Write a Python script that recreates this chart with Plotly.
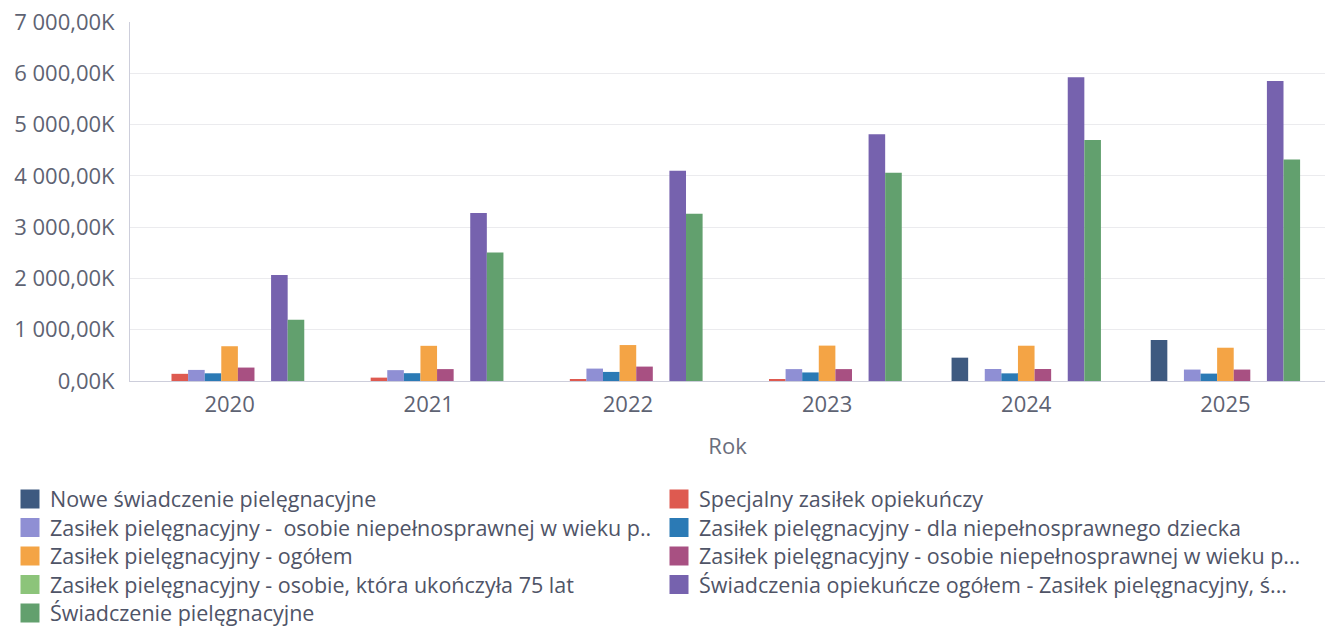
import plotly.graph_objects as go

# Years on the category axis
years = ["2020", "2021", "2022", "2023", "2024", "2025"]

# Series values, in thousands
nowe_swiadczenie = [0, 0, 0, 0, 455, 800]
specjalny_zasilek = [140, 66, 31, 25, 0, 0]
zasilek_wiek_p_a = [216, 212, 242, 232, 234, 223]
zasilek_dziecko = [150, 152, 177, 167, 149, 144]
zasilek_ogolem = [678, 686, 701, 690, 688, 649]
zasilek_wiek_p_b = [262, 232, 281, 232, 234, 223]
zasilek_75_lat = [0, 0, 0, 0, 0, 0]
swiadczenia_ogolem = [2065, 3275, 4100, 4810, 5925, 5850]
swiadczenie_piel = [1196, 2506, 3262, 4060, 4700, 4320]

series_names = [
    "Nowe świadczenie pielęgnacyjne",
    "Specjalny zasiłek opiekuńczy",
    "Zasiłek pielęgnacyjny -  osobie niepełnosprawnej w wieku p..",
    "Zasiłek pielęgnacyjny - dla niepełnosprawnego dziecka",
    "Zasiłek pielęgnacyjny - ogółem",
    "Zasiłek pielęgnacyjny - osobie niepełnosprawnej w wieku p...",
    "Zasiłek pielęgnacyjny - osobie, która ukończyła 75 lat",
    "Świadczenia opiekuńcze ogółem - Zasiłek pielęgnacyjny, ś...",
    "Świadczenie pielęgnacyjne",
]
series_values = [
    nowe_swiadczenie, specjalny_zasilek, zasilek_wiek_p_a, zasilek_dziecko,
    zasilek_ogolem, zasilek_wiek_p_b, zasilek_75_lat, swiadczenia_ogolem,
    swiadczenie_piel,
]
series_colors = [
    "#3e5a80", "#de5a50", "#8f8fd4", "#2b7ab5", "#f4a445",
    "#a85082", "#8cc47a", "#7662ae", "#62a06e",
]

FONT = "Open Sans"
TICK_COLOR = "#5e6373"
LEGEND_FONT = dict(family=FONT, size=21.5, color="#4f5467")

# Figure geometry (px)
W, H = 1330, 644
M_L, M_R, M_T, M_B = 130, 5, 22, 263
PLOT_BOTTOM = H - M_B
PLOT_H = H - M_T - M_B
PLOT_W = W - M_L - M_R

# Two-column legend, one legend object per row
N_COLS = 2
ROW_PITCH = 28.5
FIRST_ROW_TOP = 478.5
LEGEND_LEFT = 10
ENTRY_WIDTH = 604


def legend_id(row):
    return "legend" if row == 0 else f"legend{row + 1}"


fig = go.Figure()
for i, (name, vals, col) in enumerate(zip(series_names, series_values, series_colors)):
    row = i // N_COLS
    fig.add_trace(go.Bar(x=years, y=vals, name=name, marker_color=col,
                         marker_line_width=0, legendgroup=name,
                         showlegend=False))
    # Legend swatch for the series (larger square than the bar default)
    fig.add_trace(go.Scatter(x=[None], y=[None], mode="markers", name=name,
                             legendgroup=name, legend=legend_id(row),
                             marker=dict(symbol="square", size=16, color=col,
                                         line=dict(color=col, width=3)),
                             hoverinfo="skip"))

layout_legends = {}
n_rows = (len(series_names) + N_COLS - 1) // N_COLS
for r in range(n_rows):
    top = FIRST_ROW_TOP + r * ROW_PITCH
    layout_legends[legend_id(r)] = dict(
        orientation="h", xref="paper", yref="paper",
        x=(LEGEND_LEFT - M_L) / PLOT_W, y=(PLOT_BOTTOM - top) / PLOT_H,
        xanchor="left", yanchor="top",
        entrywidth=ENTRY_WIDTH, traceorder="normal",
        itemsizing="trace",
        font=LEGEND_FONT, bgcolor="rgba(0,0,0,0)",
    )

fig.update_layout(
    width=W, height=H,
    margin=dict(l=M_L, r=M_R, t=M_T, b=M_B, autoexpand=False),
    paper_bgcolor="white", plot_bgcolor="white",
    barmode="group", bargap=0.25, bargroupgap=0,
    separators=", ",
    font=dict(family=FONT, size=22, color=TICK_COLOR),
    showlegend=True,
    **layout_legends,
)

fig.update_xaxes(
    type="category", showgrid=False, showline=True, linecolor="#cdcedb",
    linewidth=1, ticks="", ticklabelstandoff=4,
    tickfont=dict(size=22, color=TICK_COLOR),
    title=dict(text="Rok", font=dict(size=22, color="#6a6e7c"), standoff=21),
)
fig.update_yaxes(
    range=[0, 7000], dtick=1000, tickformat=",.2f", ticksuffix="K",
    showgrid=True, gridcolor="#ebebee", gridwidth=1,
    showline=True, linecolor="#cdcedb", linewidth=1,
    zeroline=False, ticks="", ticklabelstandoff=10,
    tickfont=dict(size=22, color=TICK_COLOR),
)

fig.write_html("out.html")
